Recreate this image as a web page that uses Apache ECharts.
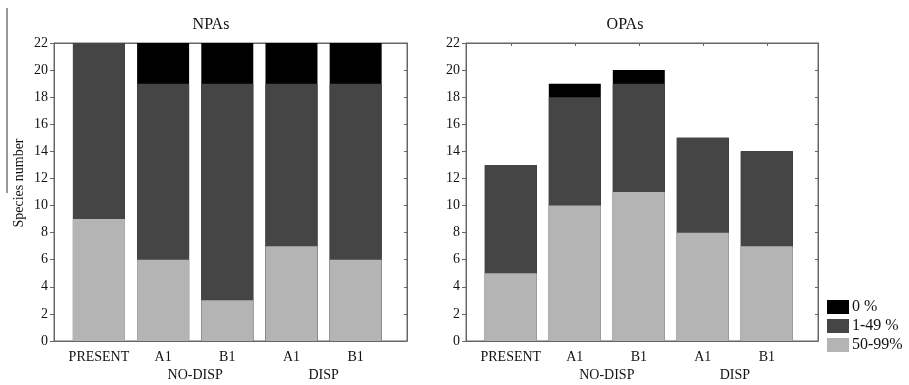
<!DOCTYPE html>
<html>
<head>
<meta charset="utf-8">
<script src="https://cdn.jsdelivr.net/npm/echarts@6/dist/echarts.min.js"></script>
<style>
html,body{margin:0;padding:0;background:#fff;}
#chart{width:909px;height:385px;}
</style>
</head>
<body>
<div id="chart"></div>
<script>
// ---- data ----
var categories = ['PRESENT', 'A1', 'B1', 'A1', 'B1'];
var groupOf = ['', 'NO-DISP', 'NO-DISP', 'DISP', 'DISP'];
var panelTitles = ['NPAs', 'OPAs'];
var seriesNames = ['50-99%', '1-49 %', '0 %'];
var legendOrder = ['0 %', '1-49 %', '50-99%'];
var npa50 = [9, 6, 3, 7, 6];
var npa1 = [13, 13, 16, 12, 13];
var npa0 = [0, 3, 3, 3, 3];
var opa50 = [5, 10, 11, 8, 7];
var opa1 = [8, 8, 8, 7, 7];
var opa0 = [0, 1, 1, 0, 0];
var yTicks = [0, 2, 4, 6, 8, 10, 12, 14, 16, 18, 20, 22];
var yAxisTitle = 'Species number';

// ---- build ----
var FONT = '"Liberation Serif", "DejaVu Serif", serif';
var colors = ['#b4b4b4', '#454545', '#000000'];
var panels = [[npa50, npa1, npa0], [opa50, opa1, opa0]];

var xPos = categories.map(function (c, i) { return i + 1; });
var groupNames = [];
groupOf.forEach(function (g) { if (g && groupNames.indexOf(g) < 0) groupNames.push(g); });
var groupPos = groupNames.map(function (g) {
  var idx = [];
  groupOf.forEach(function (gg, i) { if (gg === g) idx.push(i + 1); });
  return idx.reduce(function (a, b) { return a + b; }, 0) / idx.length;
});
var labelValues = xPos.concat(groupPos);
function labelFor(v) {
  var i = xPos.indexOf(v);
  if (i >= 0) return categories[i];
  var j = groupPos.indexOf(v);
  if (j >= 0) return '\n' + groupNames[j];
  return '';
}

var grids = [
  {left: 54, top: 43, width: 353, height: 298, show: true, borderColor: '#666', borderWidth: 1},
  {left: 466, top: 43, width: 352, height: 298, show: true, borderColor: '#666', borderWidth: 1}
];
var titlePos = [206, 620];
var yMax = yTicks[yTicks.length - 1];
var yStep = yTicks[1] - yTicks[0];

var xAxes = [], yAxes = [], series = [], titles = [];
var lineStyle = {color: '#666', width: 1};
panels.forEach(function (p, gi) {
  xAxes.push({
    type: 'value', gridIndex: gi, position: 'bottom', min: 0.3, max: 5.8,
    axisLine: {show: true, onZero: false, lineStyle: lineStyle},
    axisTick: {show: true, inside: true, length: 3, customValues: xPos, lineStyle: lineStyle},
    splitLine: {show: false},
    axisLabel: {
      customValues: labelValues, margin: 7, color: '#111', fontFamily: FONT, fontSize: 14,
      lineHeight: 18, formatter: function (v) { return labelFor(v); }
    }
  });
  xAxes.push({
    type: 'value', gridIndex: gi, position: 'top', min: 0.3, max: 5.8,
    axisLine: {show: true, onZero: false, lineStyle: lineStyle},
    axisTick: {show: true, inside: true, length: 3, customValues: xPos, lineStyle: lineStyle},
    splitLine: {show: false}, axisLabel: {show: false}
  });
  yAxes.push({
    type: 'value', gridIndex: gi, position: 'left', min: yTicks[0], max: yMax, interval: yStep,
    axisLine: {show: true, lineStyle: lineStyle},
    axisTick: {show: true, inside: false, length: 4, lineStyle: lineStyle},
    splitLine: {show: false},
    axisLabel: {margin: 6, color: '#111', fontFamily: FONT, fontSize: 14},
    name: gi === 0 ? yAxisTitle : '', nameLocation: 'middle', nameGap: 28, nameRotate: 90,
    nameTextStyle: {fontFamily: FONT, fontSize: 14, color: '#111', padding: [0, 0, 0, 18]}
  });
  yAxes.push({
    type: 'value', gridIndex: gi, position: 'right', min: yTicks[0], max: yMax, interval: yStep,
    axisLine: {show: true, lineStyle: lineStyle},
    axisTick: {show: true, inside: true, length: 3, lineStyle: lineStyle},
    splitLine: {show: false}, axisLabel: {show: false}
  });
  // cumulative tops (bottom segment first); bars overlap on the value axis,
  // so draw tallest first and shorter segments on top
  var cum = [];
  p.forEach(function (arr, si) {
    cum.push(arr.map(function (v, i) { return v + (si > 0 ? cum[si - 1][i] : 0); }));
  });
  for (var si = p.length - 1; si >= 0; si--) {
    (function (si) {
      series.push({
        type: 'bar', name: seriesNames[si],
        xAxisIndex: gi * 2, yAxisIndex: gi * 2, barWidth: 52, barGap: '-100%',
        itemStyle: {color: colors[si]},
        data: cum[si].map(function (v, i) { return [xPos[i], v]; }),
        animation: false
      });
    })(si);
  }
  titles.push({
    text: panelTitles[gi], left: titlePos[gi], top: 12, textAlign: 'center',
    textStyle: {fontFamily: FONT, fontSize: 16, fontWeight: 'normal', color: '#111'}
  });
});

var chart = echarts.init(document.getElementById('chart'), null, {renderer: 'canvas'});
chart.setOption({
  animation: false,
  backgroundColor: '#fff',
  title: titles,
  grid: grids,
  xAxis: xAxes,
  yAxis: yAxes,
  series: series,
  legend: {
    data: legendOrder, orient: 'vertical', left: 822, top: 294,
    itemWidth: 22, itemHeight: 14, itemGap: 3, icon: 'rect',
    textStyle: {fontFamily: FONT, fontSize: 16, color: '#111', padding: [0, 0, 0, -2]},
    selectedMode: false
  },
  graphic: [{
    type: 'line', shape: {x1: 7, y1: 8, x2: 7, y2: 193},
    style: {stroke: '#777', lineWidth: 1.5}, silent: true
  }]
});
</script>
</body>
</html>
